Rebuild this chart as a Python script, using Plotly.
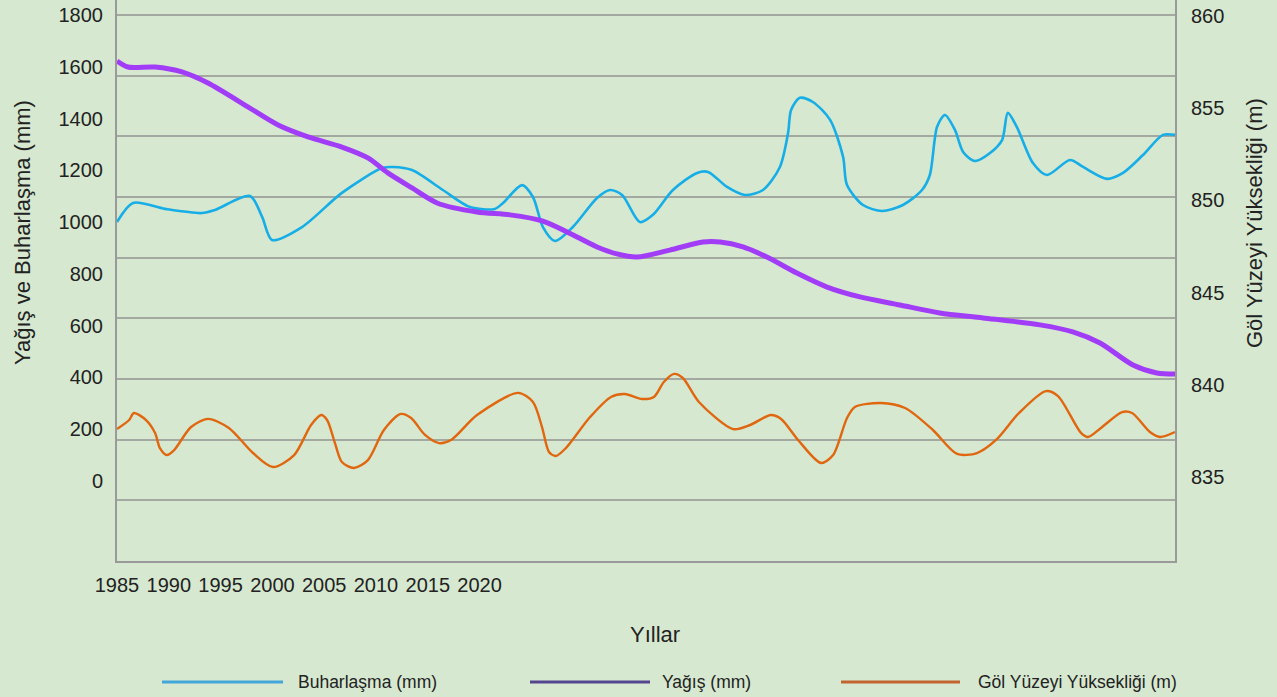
import plotly.graph_objects as go

# Buharlaşma (mm)
buhar_yil = [1985.00, 1985.53, 1986.59, 1987.81, 1988.24, 1989.40, 1989.80, 1990.13, 1991.12,
             1992.44, 1993.77, 1994.13, 1994.76, 1995.78, 1996.68, 1997.50, 1997.77, 1998.40,
             1998.76, 1999.09, 1999.49, 2000.08, 2000.88, 2001.31, 2001.71, 2002.30, 2002.73,
             2003.39, 2004.19, 2004.55, 2005.18, 2005.77, 2006.37, 2006.93, 2007.20, 2007.30,
             2007.59, 2008.02, 2008.59, 2009.02, 2009.15, 2009.68, 2010.31, 2011.00, 2011.63,
             2011.89, 2012.13, 2012.39, 2012.72, 2012.99, 2013.38, 2013.88, 2014.28, 2014.47,
             2014.77, 2015.30, 2015.76, 2016.53, 2016.96, 2017.75, 2018.28, 2018.94, 2019.60,
             2020.00]
buhar_mm = [1000, 1074, 1051, 1035, 1047, 1101, 1020, 931, 981,
            1113, 1209, 1213, 1201, 1124, 1058, 1051, 1074, 1143,
            1097, 981, 927, 981, 1093, 1124, 1105, 1000, 1028,
            1124, 1190, 1194, 1136, 1105, 1124, 1213, 1344, 1433,
            1480, 1464, 1395, 1252, 1143, 1066, 1043, 1066, 1124,
            1182, 1368, 1414, 1356, 1271, 1236, 1267, 1317, 1422,
            1367, 1228, 1182, 1240, 1213, 1167, 1190, 1259, 1337,
            1337]

# Yağış (mm)
yagis_yil = [1985.00, 1985.36, 1986.26, 1987.15, 1988.01, 1989.33, 1990.33, 1991.32, 1992.44,
             1993.30, 1993.96, 1994.76, 1995.59, 1996.91, 1998.00, 1999.09, 1999.89, 2000.88,
             2001.54, 2002.20, 2003.29, 2004.39, 2004.95, 2005.71, 2006.50, 2007.49, 2008.49,
             2009.58, 2010.90, 2012.22, 2013.65, 2015.53, 2016.62, 2017.52, 2018.61, 2019.40,
             2020.00]
yagis_mm = [1622, 1599, 1599, 1580, 1537, 1445, 1375, 1329, 1290,
            1248, 1190, 1132, 1074, 1039, 1028, 1004, 962, 904,
            877, 865, 892, 923, 923, 904, 865, 803, 749,
            711, 680, 649, 630, 603, 576, 533, 448, 417,
            413]

# Göl Yüzeyi Yüksekliği (m)
gol_yil = [1985.00, 1985.40, 1985.56, 1985.96, 1986.26, 1986.42, 1986.65, 1986.89, 1987.45,
           1988.01, 1988.70, 1989.50, 1990.16, 1990.86, 1991.42, 1991.75, 1991.95, 1992.21,
           1992.44, 1992.84, 1993.30, 1993.83, 1994.39, 1994.73, 1995.19, 1995.65, 1996.05,
           1996.91, 1998.27, 1998.76, 1999.06, 1999.29, 1999.52, 1999.85, 2000.65, 2001.34,
           2001.80, 2002.37, 2002.76, 2003.09, 2003.43, 2003.72, 2004.25, 2005.38, 2005.94,
           2006.63, 2006.97, 2007.53, 2008.29, 2008.69, 2009.15, 2009.41, 2010.27, 2011.07,
           2011.99, 2012.79, 2013.45, 2014.08, 2014.84, 2015.73, 2016.13, 2016.89, 2017.12,
           2017.55, 2018.25, 2018.58, 2019.17, 2019.50, 2020.00]
gol_m = [837.60, 838.09, 838.47, 838.09, 837.39, 836.57, 836.19, 836.46, 837.71,
         838.15, 837.66, 836.30, 835.54, 836.19, 837.82, 838.36, 838.09, 836.84,
         835.81, 835.49, 835.92, 837.55, 838.42, 838.20, 837.28, 836.84, 837.01,
         838.36, 839.56, 839.07, 837.71, 836.36, 836.14, 836.57, 838.25, 839.34,
         839.50, 839.23, 839.34, 840.15, 840.59, 840.37, 839.07, 837.60, 837.82,
         838.36, 838.15, 837.01, 835.76, 836.19, 838.20, 838.80, 839.01, 838.74,
         837.55, 836.25, 836.30, 837.01, 838.47, 839.66, 839.39, 837.39, 837.17,
         837.66, 838.52, 838.47, 837.44, 837.17, 837.44]

yil_etiket = [1985, 1990, 1995, 2000, 2005, 2010, 2015, 2020]
sol_etiket = [0, 200, 400, 600, 800, 1000, 1200, 1400, 1600, 1800]
sag_etiket = [835, 840, 845, 850, 855, 860]

seriler = [
    ("Buharlaşma (mm)", "#17aee8", "#43a6d8"),
    ("Yağış (mm)", "#a23df7", "#53468f"),
    ("Göl Yüzeyi Yüksekliği (m)", "#e0670f", "#c1642f"),
]

BG = "#d6e8cf"
FONT = "Liberation Sans, Arial, sans-serif"

# çizim alanı piksel olarak
L, R, T, B = 117, 1175, 0, 561
W, H = 1277, 697


def px(x):
    return (x - L) / (R - L)


def py(y):
    return (B - y) / (B - T)


fig = go.Figure()

fig.add_trace(go.Scatter(x=buhar_yil, y=buhar_mm, mode="lines", name=seriler[0][0],
                         line=dict(color=seriler[0][1], width=2.6, shape="spline", smoothing=0.8),
                         xaxis="x", yaxis="y", showlegend=False))
fig.add_trace(go.Scatter(x=yagis_yil, y=yagis_mm, mode="lines", name=seriler[1][0],
                         line=dict(color=seriler[1][1], width=5, shape="spline", smoothing=0.8),
                         xaxis="x", yaxis="y", showlegend=False))
fig.add_trace(go.Scatter(x=gol_yil, y=gol_m, mode="lines", name=seriler[2][0],
                         line=dict(color=seriler[2][1], width=2.4, shape="spline", smoothing=0.8),
                         xaxis="x", yaxis="y2", showlegend=False))

# boş izler: yıl etiketi ekseni ve kılavuz ekseni çizilsin diye
fig.add_trace(go.Scatter(x=yil_etiket, y=[None] * len(yil_etiket), mode="lines",
                         xaxis="x2", yaxis="y", showlegend=False, hoverinfo="skip"))
fig.add_trace(go.Scatter(x=[1985], y=[None], mode="lines",
                         xaxis="x", yaxis="y3", showlegend=False, hoverinfo="skip"))

axis_col = "#9a9a9a"
tick_font = dict(family=FONT, size=20, color="#222222")

fig.update_layout(
    width=W, height=H,
    margin=dict(l=L, r=W - R, t=T, b=H - B),
    paper_bgcolor=BG, plot_bgcolor=BG,
    font=dict(family=FONT, color="#222222"),
    xaxis=dict(range=[1985, 2020], showticklabels=False, showgrid=False, zeroline=False,
               showline=True, linecolor=axis_col, linewidth=2, ticks=""),
    # etiketler soldaki dar aralıkta duruyor
    xaxis2=dict(overlaying="x", anchor="y", side="bottom",
                range=[1985, 1985 + (R - L) / 51.8 * 5],
                tickvals=yil_etiket, showgrid=False, zeroline=False, showline=False,
                ticks="", tickfont=tick_font, ticklabelstandoff=10),
    yaxis=dict(range=[-80 * 1800 / 466, 481 * 1800 / 466], tickvals=sol_etiket,
               showgrid=False, zeroline=False, showline=True, linecolor=axis_col, linewidth=2,
               ticks="", tickfont=tick_font, ticklabelstandoff=8),
    yaxis2=dict(overlaying="y", side="right", anchor="x",
                range=[835 - 84 / 18.44, 860 + 16 / 18.44], tickvals=sag_etiket,
                showgrid=False, zeroline=False, showline=True, linecolor=axis_col, linewidth=2,
                ticks="", tickfont=tick_font, ticklabelstandoff=10),
    # kılavuz çizgileri etiketlerden bağımsız
    yaxis3=dict(overlaying="y", anchor="x", range=[0, 561 / 60.667], tick0=0, dtick=1,
                showgrid=True, gridcolor="#a3a8a0", gridwidth=1.5, zeroline=False,
                showticklabels=False, showline=False, ticks=""),
)

ann = [
    dict(text="Yıllar", x=px(655), y=py(634), font=dict(size=22)),
    dict(text="Yağış ve Buharlaşma (mm)", x=px(23), y=py(233), textangle=-90, font=dict(size=22)),
    dict(text="Göl Yüzeyi Yüksekliği (m)", x=px(1255), y=py(223), textangle=-90, font=dict(size=22)),
]
for a in ann:
    fig.add_annotation(xref="paper", yref="paper", showarrow=False,
                       xanchor="center", yanchor="middle", **a)

# el yapımı gösterge
leg = [(162, 283, 296), (530, 650, 660), (841, 960, 976)]
for (x0, x1, xt), (name, _, lc) in zip(leg, seriler):
    fig.add_shape(type="line", xref="paper", yref="paper", x0=px(x0), x1=px(x1),
                  y0=py(682), y1=py(682), line=dict(color=lc, width=3))
    fig.add_annotation(xref="paper", yref="paper", showarrow=False, text=name,
                       x=px(xt), y=py(682), xanchor="left", yanchor="middle",
                       font=dict(size=17.5, color="#222222"))

fig.write_html("out.html", config={"displayModeBar": False},
               post_script="document.body.style.margin='0';")
